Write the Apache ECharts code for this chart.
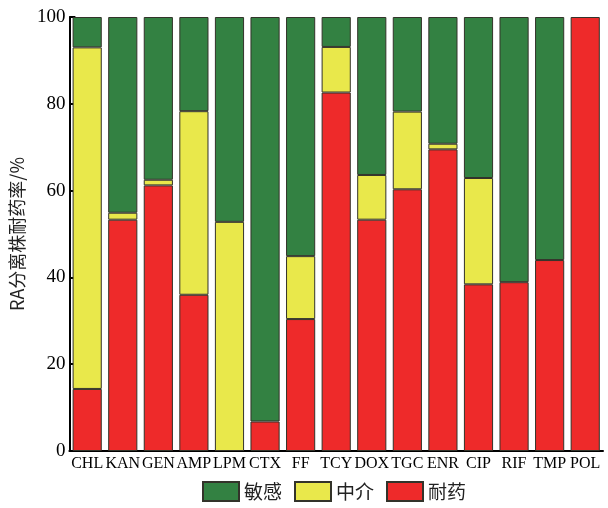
<!DOCTYPE html>
<html><head><meta charset="utf-8">
<script src="https://cdn.jsdelivr.net/npm/echarts@6/dist/echarts.min.js"></script>
<style>html,body{margin:0;padding:0;background:#fff}#c{width:608px;height:508px}</style>
</head><body><div id="c"></div>
<script>
const categories = ['CHL','KAN','GEN','AMP','LPM','CTX','FF','TCY','DOX','TGC','ENR','CIP','RIF','TMP','POL'];
const resistant    = [14.3, 53.3, 61.2, 36.0, 0, 6.8, 30.4, 82.6, 53.3, 60.3, 69.5, 38.4, 38.9, 44.0, 100];
const intermediate = [78.7, 1.6, 1.3, 42.3, 52.8, 0, 14.5, 10.5, 10.3, 17.9, 1.3, 24.5, 0, 0, 0];
const sensitive    = [7.0, 45.1, 37.5, 21.7, 47.2, 93.2, 55.1, 6.9, 36.4, 21.8, 29.2, 37.1, 61.1, 56.0, 0];
const yTicks = [0, 20, 40, 60, 80, 100];
const seriesNames = ['敏感', '中介', '耐药'];

const serif = 'Liberation Serif, Times New Roman, serif';
const cjk = 'Noto Sans CJK SC, sans-serif';
const border = { borderColor: '#33332a', borderWidth: 1 };
const nz = a => a.map(v => v === 0 ? null : v);

const chart = echarts.init(document.getElementById('c'));
chart.setOption({
  animation: false,
  grid: { left: 68, right: 5, top: 17, bottom: 57 },
  legend: {
    bottom: 1, left: 197,
    data: [seriesNames[0], seriesNames[1], seriesNames[2]],
    icon: 'rect',
    itemWidth: 36, itemHeight: 19, itemGap: 12,
    textStyle: { fontFamily: cjk, fontSize: 19, color: '#222' }
  },
  xAxis: {
    type: 'category', data: categories,
    axisLine: { lineStyle: { color: '#000', width: 2 } },
    axisTick: { show: false },
    axisLabel: { interval: 0, margin: 5, color: '#000', fontFamily: serif, fontSize: 16 }
  },
  yAxis: {
    type: 'value', min: 0, max: 100, interval: 20,
    name: 'RA分离株耐药率/%', nameLocation: 'middle', nameGap: 40,
    nameTextStyle: { fontFamily: cjk, fontSize: 18, color: '#222' },
    axisLine: { show: true, lineStyle: { color: '#000', width: 2 } },
    axisTick: { show: true, inside: true, length: 6, lineStyle: { color: '#000', width: 2 } },
    splitLine: { show: false },
    axisLabel: { margin: 4, color: '#000', fontFamily: serif, fontSize: 19,
      formatter: v => yTicks.includes(v) ? String(v) : '' }
  },
  series: [
    { name: seriesNames[2], type: 'bar', stack: 's', data: nz(resistant), barCategoryGap: '18%',
      itemStyle: Object.assign({ color: '#ee2a2a' }, border) },
    { name: seriesNames[1], type: 'bar', stack: 's', data: nz(intermediate),
      itemStyle: Object.assign({ color: '#e9e84b' }, border) },
    { name: seriesNames[0], type: 'bar', stack: 's', data: nz(sensitive),
      itemStyle: Object.assign({ color: '#338142' }, border) }
  ]
});
</script></body></html>
